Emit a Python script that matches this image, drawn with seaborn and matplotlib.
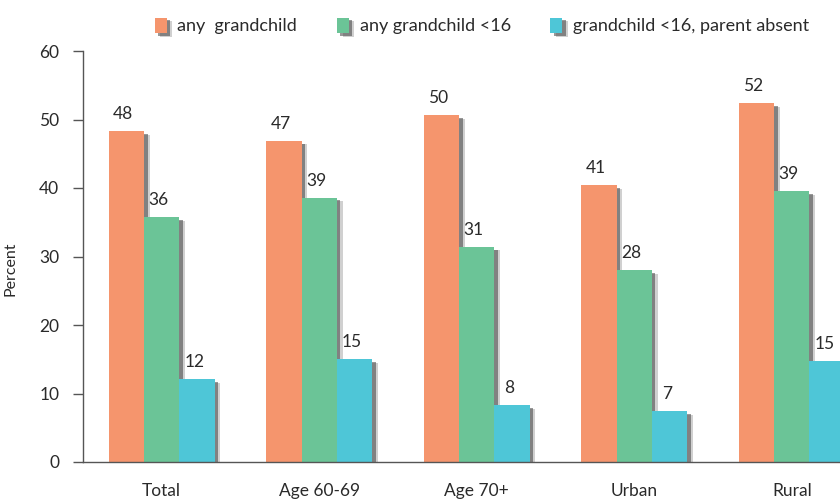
import numpy as np
import pandas as pd
import matplotlib
matplotlib.use("Agg")
import matplotlib.pyplot as plt
import matplotlib.patheffects as pe
import seaborn as sns

# data
groups = ["Total", "Age 60-69", "Age 70+", "Urban", "Rural"]
series = ["any  grandchild", "any grandchild <16", "grandchild <16, parent absent"]
any_gc = [48.3, 46.9, 50.6, 40.4, 52.4]
any_gc16 = [35.7, 38.6, 31.4, 28.0, 39.5]
gc16_absent = [12.1, 15.0, 8.3, 7.4, 14.7]
lab_any = [48, 47, 50, 41, 52]
lab_any16 = [36, 39, 31, 28, 39]
lab_absent = [12, 15, 8, 7, 15]
colors = ["#F5956D", "#6BC497", "#4EC6D7"]

df = pd.DataFrame({
    "group": groups * 3,
    "series": [series[0]] * 5 + [series[1]] * 5 + [series[2]] * 5,
    "value": any_gc + any_gc16 + gc16_absent,
})

sns.set_style("white")
plt.rcParams["font.family"] = ["Lato", "DejaVu Sans"]
txt = "#2a2a2a"

fig = plt.figure(figsize=(8.4, 5.01), dpi=100)
# axes runs past the right edge, like the cropped original
ax = fig.add_axes([83 / 840, 39 / 501, 787.5 / 840, 411 / 501])

sns.barplot(data=df, x="group", y="value", hue="series", order=groups,
            hue_order=series, palette=colors, width=0.675, saturation=1,
            ax=ax, edgecolor="none", linewidth=0)

# soft dark shadow on the right side of each bar
shadow = [pe.SimplePatchShadow(offset=(4, -2.5), shadow_rgbFace="0.4", alpha=0.3),
          pe.SimplePatchShadow(offset=(2.5, -2), shadow_rgbFace="0.2", alpha=0.5),
          pe.Normal()]
for p in ax.patches:
    p.set_path_effects(shadow)

labels = [lab_any, lab_any16, lab_absent]
for cont, labs in zip(ax.containers, labels):
    for bar, lab in zip(cont, labs):
        ax.annotate(str(lab), (bar.get_x() + bar.get_width() / 2, bar.get_height()),
                    xytext=(-3, 9), textcoords="offset pixels", ha="center",
                    va="bottom", fontsize=12.5, color=txt)

ax.set_xlim(-0.5, 4.5)
ax.set_ylim(0, 60)
ax.set_yticks([0, 10, 20, 30, 40, 50, 60])
ax.set_xticks(range(5))
ax.set_xticklabels(groups)
ax.set_xticks(np.arange(-0.5, 5, 1), minor=True)
ax.tick_params(axis="x", which="major", length=0, pad=15, labelsize=12.5, labelcolor=txt)
ax.tick_params(axis="x", which="minor", length=8, width=1, color="#555555", direction="out")
ax.tick_params(axis="y", length=7, width=1, color="#555555", direction="out",
               pad=10, labelsize=12.5, labelcolor=txt, left=True)
ax.set_xlabel("")
ax.set_ylabel("Percent", fontsize=11.5, color=txt)
ax.yaxis.set_label_coords(-0.083, 0.47)

for s in ["top", "right"]:
    ax.spines[s].set_visible(False)
for s in ["left", "bottom"]:
    ax.spines[s].set_color("#555555")
    ax.spines[s].set_linewidth(1)

handles, hl = ax.get_legend_handles_labels()
ax.get_legend().remove()
for h in handles:
    h.set_path_effects(shadow)
fig.legend(handles, hl, loc="center", bbox_to_anchor=(482 / 840, 1 - 26 / 501),
           ncol=3, frameon=False, fontsize=13, handlelength=0.65, handleheight=0.95,
           handletextpad=0.6, columnspacing=2.2, labelcolor=txt)

fig.savefig("out.png", dpi=100)
